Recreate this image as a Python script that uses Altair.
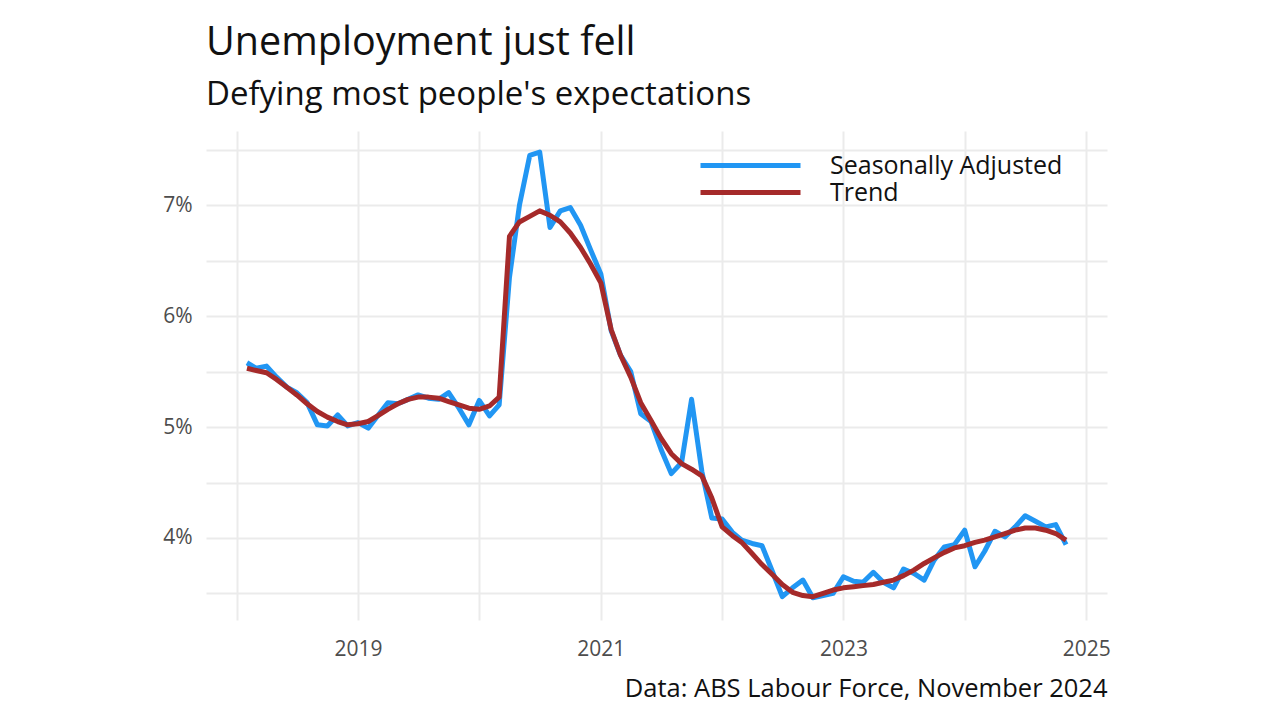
import altair as alt
import pandas as pd

# Monthly data, Feb 2018 .. Nov 2024
months = pd.date_range("2018-02-01", periods=82, freq="MS").strftime("%Y-%m-%d").tolist()

seasonally_adjusted = [
    5.58, 5.53, 5.55, 5.45, 5.36, 5.31, 5.22, 5.02, 5.01, 5.11,
    5.01, 5.04, 4.99, 5.10, 5.22, 5.21, 5.25, 5.29, 5.26, 5.25,
    5.31, 5.17, 5.02, 5.24, 5.10, 5.20, 6.35, 7.00, 7.45, 7.48,
    6.80, 6.95, 6.98, 6.82, 6.60, 6.38, 5.87, 5.65, 5.50, 5.12,
    5.05, 4.80, 4.58, 4.68, 5.25, 4.60, 4.18, 4.17, 4.05, 3.98,
    3.95, 3.93, 3.70, 3.47, 3.55, 3.62, 3.46, 3.48, 3.50, 3.65,
    3.61, 3.60, 3.69, 3.60, 3.55, 3.72, 3.68, 3.62, 3.80, 3.92,
    3.94, 4.07, 3.74, 3.88, 4.06, 4.01, 4.10, 4.20, 4.15, 4.10,
    4.12, 3.94,
]

trend = [
    5.53, 5.51, 5.49, 5.43, 5.36, 5.29, 5.21, 5.14, 5.09, 5.05,
    5.02, 5.03, 5.05, 5.10, 5.16, 5.21, 5.25, 5.27, 5.27, 5.26,
    5.23, 5.20, 5.17, 5.16, 5.19, 5.27, 6.72, 6.85, 6.90, 6.95,
    6.91, 6.85, 6.75, 6.62, 6.47, 6.30, 5.88, 5.65, 5.45, 5.22,
    5.06, 4.90, 4.76, 4.67, 4.62, 4.56, 4.36, 4.10, 4.02, 3.96,
    3.86, 3.76, 3.67, 3.58, 3.51, 3.48, 3.47, 3.50, 3.53, 3.55,
    3.56, 3.57, 3.58, 3.60, 3.62, 3.66, 3.71, 3.77, 3.82, 3.87,
    3.91, 3.93, 3.96, 3.98, 4.01, 4.04, 4.07, 4.09, 4.09, 4.07,
    4.04, 3.98,
]

series_names = ["Seasonally Adjusted", "Trend"]
series_colors = ["#2196F3", "#A52A2A"]
year_ticks = list(range(2018, 2026))
pct_ticks = [3.5, 4.0, 4.5, 5.0, 5.5, 6.0, 6.5, 7.0, 7.5]

rows = []
for m, v in zip(months, seasonally_adjusted):
    rows.append({"date": m, "rate": v, "series": series_names[0]})
for m, v in zip(months, trend):
    rows.append({"date": m, "rate": v, "series": series_names[1]})
df = pd.DataFrame(rows)

def ms(s):
    return int(pd.Timestamp(s).value // 10**6)

t0, t1 = ms(months[0]), ms(months[-1])
pad = 0.05 * (t1 - t0)
x_domain = [t0 - pad, t1 + pad]
x_values = [ms(f"{y}-01-01") for y in year_ticks]

FONT = "Open Sans"
W, H = 901, 489

chart = (
    alt.Chart(df)
    .mark_line(strokeWidth=5, strokeJoin="round")
    .encode(
        x=alt.X(
            "date:T",
            scale=alt.Scale(type="utc", domain=x_domain, nice=False),
            axis=alt.Axis(
                values=x_values,
                labelExpr="(utcyear(datum.value) % 2 == 1) ? utcFormat(datum.value, '%Y') : ''",
                grid=True,
                gridColor="#ebebeb",
                gridWidth=2,
                ticks=False,
                domain=False,
                labelOverlap=False,
                labelFlush=False,
                labelFontSize=21,
                labelColor="#4d4d4d",
                labelFont=FONT,
                labelPadding=18,
                title="Data: ABS Labour Force, November 2024",
                titleFont=FONT,
                titleFontSize=25.5,
                titleFontWeight="normal",
                titleColor="#111111",
                titleAlign="right",
                titleBaseline="alphabetic",
                titleX=W,
                titleY=76,
            ),
        ),
        y=alt.Y(
            "rate:Q",
            scale=alt.Scale(domain=[3.26, 7.67], nice=False, zero=False),
            axis=alt.Axis(
                values=pct_ticks,
                labelExpr="(datum.value % 1 == 0) ? format(datum.value, 'd') + '%' : ''",
                grid=True,
                gridColor="#ebebeb",
                gridWidth=2,
                ticks=False,
                domain=False,
                labelOverlap=False,
                labelFlush=False,
                labelFontSize=21,
                labelColor="#4d4d4d",
                labelFont=FONT,
                labelPadding=14,
                title=None,
            ),
        ),
        color=alt.Color(
            "series:N",
            scale=alt.Scale(domain=series_names, range=series_colors),
            legend=alt.Legend(
                title=None,
                orient="none",
                legendX=532,
                legendY=22,
                symbolType="M-10,0H10",
                symbolSize=100,
                symbolStrokeWidth=5,
                labelOffset=67,
                labelFontSize=25,
                labelFont=FONT,
                labelColor="#111111",
                labelLimit=500,
                padding=0,
                rowPadding=1,
            ),
        ),
    )
    .properties(
        width=W,
        height=H,
        autosize="none",
        background="white",
        padding={"left": 198, "top": 123, "right": 60, "bottom": 90},
        title=alt.TitleParams(
            text="Unemployment just fell",
            subtitle="Defying most people's expectations",
            anchor="start",
            frame="group",
            font=FONT,
            fontSize=39.5,
            fontWeight="normal",
            color="#111111",
            subtitleFont=FONT,
            subtitleFontSize=33,
            subtitleColor="#111111",
            subtitlePadding=16,
            offset=18,
        ),
    )
    .configure_view(stroke="transparent", strokeWidth=0)
)

chart.save("out.html", embed_options={"renderer": "svg", "actions": False})
